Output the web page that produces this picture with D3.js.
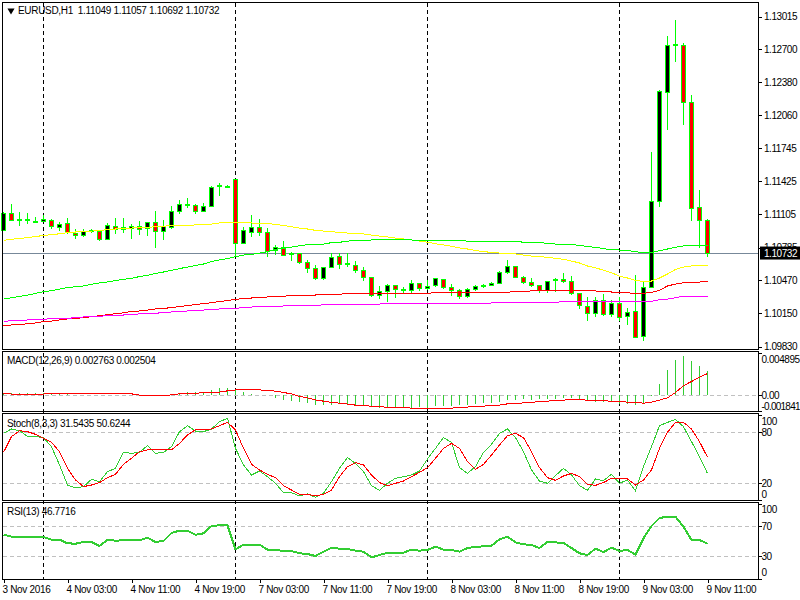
<!DOCTYPE html>
<html>
<head>
<meta charset="utf-8">
<script src="https://cdn.jsdelivr.net/npm/d3@7"></script>
<style>
  html, body { margin: 0; padding: 0; background: #fff; }
  svg { display: block; }
  text { font-family: "Liberation Sans", Arial, sans-serif; font-size: 10px; letter-spacing: -0.45px; fill: #000; }
  .wide text, text.wide { letter-spacing: -0.32px; }
  .axis path { display: none; }
  .axis line { stroke: #000; shape-rendering: crispEdges; }
</style>
</head>
<body>
<svg id="chart" width="800" height="600"></svg>
<script>
// prices are in points (1.10732 = 110732), one entry per H1 bar
const opens = [
  110951,111115,111056,111044,111036,111036,111044,110976,111019,110922,
  110899,110947,110942,110861,110989,110961,110970,110989,110973,111029,
  110938,110983,111135,111190,111193,111131,111183,111375,111378,111444,
  110822,110928,110980,110935,110754,110787,110715,110723,110643,110584,
  110484,110594,110700,110628,110614,110565,110498,110324,110362,110420,
  110370,110372,110439,110387,110420,110478,110401,110372,110310,110378,
  110405,110420,110439,110546,110604,110498,110449,110417,110368,110470,
  110478,110455,110343,110217,110150,110272,110140,110247,110121,110170,
  109928,110401,111231,112283,112737,112737,112187,111173,111049];
const highs = [
  111128,111205,111128,111118,111080,111099,111058,111029,111070,110961,
  110961,110964,110954,111022,111070,111070,111012,111041,111029,111137,
  111051,111186,111244,111263,111205,111212,111376,111405,111392,111444,
  110980,111099,111061,110974,110809,110848,110742,110729,110665,110617,
  110600,110729,110729,110729,110655,110597,110498,110414,110433,110427,
  110401,110472,110445,110472,110494,110484,110433,110382,110394,110420,
  110433,110452,110558,110665,110607,110510,110491,110423,110465,110491,
  110536,110510,110343,110305,110305,110337,110279,110311,110198,110520,
  110462,111707,112305,112827,112981,112759,112257,111340,111057];
const lows = [
  110944,111044,110993,111012,111022,111032,110964,110944,110916,110868,
  110887,110925,110851,110861,110916,110925,110868,110906,110896,110781,
  110858,110964,111109,111167,111109,111128,111179,111283,111363,110697,
  110822,110890,110896,110697,110713,110706,110658,110629,110542,110475,
  110472,110594,110578,110594,110539,110465,110305,110285,110260,110298,
  110343,110349,110366,110375,110401,110387,110318,110289,110301,110366,
  110394,110414,110433,110533,110498,110433,110407,110349,110343,110356,
  110445,110330,110195,110079,110118,110125,110118,110079,110037,109919,
  109886,110401,111179,111919,112578,111968,111044,110777,110692];
const closes = [
  111115,111044,111044,111056,111040,111051,110986,111009,110928,110899,
  110942,110950,110861,110999,110957,110980,110985,110964,111029,110938,
  110989,111135,111203,111200,111131,111183,111367,111385,111373,110826,
  110951,110980,110928,110751,110787,110713,110725,110639,110578,110484,
  110590,110691,110620,110618,110565,110494,110324,110362,110420,110378,
  110380,110439,110387,110410,110488,110401,110368,110310,110378,110410,
  110418,110439,110546,110604,110498,110446,110417,110368,110455,110480,
  110455,110343,110227,110150,110272,110137,110247,110112,110160,109919,
  110397,111231,112293,112737,112745,112187,111164,111049,110732];

// moving averages on the main chart
const maYellow = [
  110855,110865,110872,110881,110891,110902,110909,110918,110928,110935,
  110941,110944,110949,110959,110964,110969,110973,110978,110981,110985,
  110990,110998,111000,111001,111003,111006,111012,111022,111029,111029,
  111022,111022,111020,111018,111008,110998,110985,110973,110964,110951,
  110944,110940,110930,110925,110922,110917,110906,110896,110887,110877,
  110868,110858,110848,110836,110822,110810,110797,110781,110771,110756,
  110747,110737,110732,110727,110723,110713,110703,110697,110691,110681,
  110672,110655,110636,110607,110588,110568,110542,110510,110491,110467,
  110459,110462,110491,110530,110573,110597,110607,110610,110614];
const maGreen = [
  110288,110300,110314,110325,110343,110359,110369,110384,110399,110407,
  110414,110430,110443,110453,110466,110478,110488,110505,110517,110534,
  110549,110565,110582,110597,110611,110626,110650,110665,110679,110696,
  110713,110719,110732,110745,110768,110778,110790,110803,110813,110819,
  110819,110832,110836,110846,110855,110855,110858,110865,110865,110865,
  110865,110858,110855,110855,110855,110855,110855,110855,110846,110846,
  110846,110846,110846,110846,110846,110836,110836,110832,110826,110819,
  110816,110813,110807,110793,110788,110774,110765,110761,110758,110745,
  110735,110739,110755,110771,110788,110800,110800,110800,110800];
const maRed = [
  110028,110038,110042,110050,110057,110070,110076,110086,110096,110102,
  110108,110118,110127,110137,110147,110155,110169,110173,110182,110192,
  110198,110205,110216,110225,110234,110244,110253,110264,110274,110285,
  110293,110298,110305,110308,110312,110316,110321,110323,110324,110327,
  110331,110333,110335,110341,110343,110343,110343,110343,110343,110343,
  110343,110343,110343,110343,110351,110353,110353,110353,110353,110353,
  110353,110353,110353,110354,110361,110363,110366,110366,110366,110366,
  110366,110366,110366,110366,110366,110359,110356,110353,110348,110343,
  110343,110353,110372,110414,110433,110445,110452,110452,110459];
const maMagenta = [
  110073,110078,110083,110086,110090,110093,110099,110101,110102,110108,
  110115,110118,110122,110127,110131,110134,110141,110144,110150,110151,
  110157,110163,110168,110173,110175,110182,110188,110192,110197,110199,
  110205,110211,110214,110218,110218,110221,110227,110228,110228,110229,
  110231,110236,110238,110238,110238,110238,110238,110240,110246,110247,
  110247,110247,110247,110247,110247,110247,110247,110247,110247,110247,
  110247,110250,110256,110257,110257,110257,110257,110257,110257,110257,
  110262,110262,110262,110262,110262,110262,110262,110262,110262,110262,
  110262,110266,110282,110288,110301,110315,110315,110315,110315];

const macdHist = [
  .00025,.00023,.00025,.00028,.00028,.00023,.00018,.00018,.00018,.00005,
  .00002,-.00002,0,.00002,.00001,0,-.00002,-.00003,-.00002,-.00001,
  .00002,.00015,.00023,.00039,.00039,.00039,.00061,.00078,.00085,.00070,
  .00031,.00015,0,0,-.00031,-.00054,-.00066,-.00078,-.00093,-.00116,
  -.00116,-.00116,-.00108,-.00116,-.00124,-.00131,-.00139,-.00155,-.00155,-.00151,
  -.00139,-.00151,-.00143,-.00151,-.00124,-.00124,-.00124,-.00112,-.00112,-.00104,
  -.00096,-.00089,-.00078,-.00058,-.00054,-.00046,-.00054,-.00050,-.00043,-.00043,
  -.00038,-.00038,-.00046,-.00073,-.00081,-.00085,-.00085,-.00101,-.00104,-.00119,
  -.00093,-.00012,.00131,.00293,.00409,.00456,.00398,.00340,.002763];
const macdSignal = [
  .00023,.00012,.00012,.00012,.00012,.00012,.00023,.00023,.00023,.00023,
  .00023,.00023,.00023,.00015,.00015,.00015,.00015,0,0,0,
  0,.00002,.00015,.00015,.00023,.00027,.00035,.00035,.00050,.00061,
  .00061,.00061,.00061,.00055,.00046,.00031,.00015,-.00015,-.00031,-.00055,
  -.00070,-.00085,-.00093,-.00104,-.00116,-.00116,-.00131,-.00131,-.00143,-.00143,
  -.00139,-.00151,-.00151,-.00151,-.00151,-.00151,-.00151,-.00139,-.00139,-.00128,
  -.00128,-.00116,-.00116,-.00101,-.00101,-.00089,-.00089,-.00070,-.00070,-.00058,
  -.00058,-.00046,-.00046,-.00061,-.00061,-.00061,-.00073,-.00073,-.00081,-.00081,
  -.00093,-.00081,-.00058,-.00031,.00031,.00111,.00158,.00209,.002504];

const stochK = [
  78.8,83.9,81.9,75.2,75.2,73.7,63.1,41.5,18,14.5,
  16.1,24.7,22,33.7,37.6,56.4,55.3,56.4,64.3,55.3,
  56.4,63.1,80.7,87.8,81.5,80.7,83.9,92.5,96.4,61.1,
  41.5,29.8,34.5,27.8,20,9,9,5.1,7.4,3.5,
  8.2,22,37.6,50.2,43.5,33.7,17.2,11.7,20,25.9,
  27.8,29.8,34.5,48.6,61.1,73.7,68.2,38.4,31.7,39.6,
  56.4,65.9,78.8,83.9,73.7,57.2,35.7,22.7,20,29,
  37.6,29.8,17.2,11.7,25.1,23.1,30.6,20,23.9,11,
  39.6,63.1,87.8,91.7,95.2,86.6,69,51.4,31.5435];
const stochD = [
  56.4,74.9,81.9,80.7,77.6,72.9,68.2,57.2,37.6,23.9,
  16.1,18,20.8,26.6,30.6,42.3,49.4,57.2,59.2,59.2,
  59.2,59.2,67,76.8,83.1,83.1,83.9,87.8,91.7,82.7,
  61.1,42.3,35.7,30.6,26.6,17.2,12.1,7,7,5.1,
  7,12.1,27.8,39.6,44.3,41.5,29.8,20.8,17.2,20,
  22.7,27.8,32.9,38.4,49.4,61.1,67,61.1,45.5,36.4,
  42.3,53.3,65.1,76,78.8,73.7,57.2,38.4,26.6,23.5,
  28.6,31.7,27.8,18.8,17.6,20.8,25.9,25.1,25.1,18,
  23.9,35.7,61.1,80,91.7,91.7,83.9,69,50.6244];

const rsi = [
  58.8,56.2,56.2,56.2,56.2,55.7,52.2,52.2,47.3,46.8,
  49.1,49.1,43.7,51.8,50.9,51.3,51.8,51.3,54.8,49.1,
  50.4,61.1,64.2,64.2,58.8,60.6,70.4,71.3,71.3,39.3,
  45.5,45.5,45.5,38.9,38.4,37.1,37.1,34,33.1,30.4,
  36.2,41.5,40.2,39.7,37.5,36.2,28.6,31.7,34.8,34.8,
  34.8,38.9,37.5,38.4,42.8,38.9,38.4,36.2,41.1,42.4,
  43.3,44.2,52.6,56.2,48.6,46,45.1,41.1,49.1,48.6,
  47.7,41.1,34,31.7,40.2,35.7,41.5,37.1,38.4,32.2,
  54,70.4,81.1,82.8,82.8,69.5,51.8,51.8,46.7716];

const priceTicks = [113015,112700,112380,112060,111745,111425,111105,110785,110470,110150,109830];
const lastPrice = 110732;
const timeBars   = [0,8,16,24,32,40,48,56,64,72,80,88];
const timeLabels = ['3 Nov 2016','4 Nov 03:00','4 Nov 11:00','4 Nov 19:00','7 Nov 03:00','7 Nov 11:00',
                    '7 Nov 19:00','8 Nov 03:00','8 Nov 11:00','8 Nov 19:00','9 Nov 03:00','9 Nov 11:00'];
const dayBars = [5,29,53,77];   // day separators

const macdTicks  = [0.004895, 0, -0.001841];
const macdLabels = ['0.004895', '0.00', '-0.001841'];
const stochTicks = [100, 80, 20, 0];
const rsiTicks   = [100, 70, 30, 0];

const LEFT = 2.5, RIGHT = 758.5;
const LIME = '#00ff00', LIMEGREEN = '#32cd32';

const svg = d3.select('#chart');
const x = d3.scaleLinear().domain([0, 88]).range([3.5, 707.5]);

const yPrice = d3.scaleLinear().domain([109830, 113015]).range([346.5, 16.5]);
const yMacd  = d3.scaleLinear().domain([-0.001841, 0.004895]).range([411, 353]);
const yStoch = d3.scaleLinear().domain([0, 100]).range([500.3, 415.3]);
const yRsi   = d3.scaleLinear().domain([0, 100]).range([578.8, 503.8]);

const crisp = s => s.attr('shape-rendering', 'crispEdges');

/* ---------- day separators, behind everything ---------- */
svg.append('g').selectAll('line').data(dayBars).join('line')
  .attr('x1', d => x(d)).attr('x2', d => x(d))
  .attr('y1', 3).attr('y2', 579)
  .attr('stroke', '#000')
  .attr('stroke-dasharray', '4,3')
  .call(crisp);

/* ---------- level lines ---------- */
const levels = [[yMacd, 0], [yStoch, 80], [yStoch, 20], [yRsi, 70], [yRsi, 30]];
svg.append('g').selectAll('line').data(levels).join('line')
  .attr('x1', LEFT).attr('x2', RIGHT)
  .attr('y1', d => d[0](d[1])).attr('y2', d => d[0](d[1]))
  .attr('stroke', '#c0c0c0')
  .attr('stroke-dasharray', '4,3')
  .call(crisp);

// bid line
svg.append('line')
  .attr('x1', LEFT).attr('x2', RIGHT)
  .attr('y1', yPrice(lastPrice)).attr('y2', yPrice(lastPrice))
  .attr('stroke', '#778899')
  .call(crisp);

/* ---------- candles ---------- */
const bars = d3.range(opens.length);
const candles = svg.append('g').call(crisp);
candles.selectAll('line').data(bars).join('line')
  .attr('x1', i => x(i)).attr('x2', i => x(i))
  .attr('y1', i => yPrice(highs[i])).attr('y2', i => yPrice(lows[i]))
  .attr('stroke', LIME);
candles.selectAll('rect').data(bars).join('rect')
  .attr('x', i => x(i) - 2)
  .attr('width', 4)
  .attr('y', i => yPrice(Math.max(opens[i], closes[i])))
  .attr('height', i => Math.max(1, Math.abs(yPrice(opens[i]) - yPrice(closes[i]))))
  .attr('fill', i => closes[i] >= opens[i] ? '#000' : '#ff0000')
  .attr('stroke', LIME);

/* ---------- line helper ---------- */
function drawLine(values, yScale, color, width) {
  svg.append('path')
    .datum(values)
    .attr('fill', 'none')
    .attr('stroke', color)
    .attr('stroke-width', width || 1)
    .attr('d', d3.line().x((d, i) => x(i)).y(d => yScale(d)))
    .call(crisp);
}

drawLine(maYellow,  yPrice, '#ffff00');
drawLine(maGreen,   yPrice, LIME);
drawLine(maRed,     yPrice, '#ff0000');
drawLine(maMagenta, yPrice, '#ff00ff');

/* ---------- MACD ---------- */
svg.append('g').call(crisp).selectAll('line').data(macdHist).join('line')
  .attr('x1', (d, i) => x(i)).attr('x2', (d, i) => x(i))
  .attr('y1', yMacd(0)).attr('y2', d => yMacd(d))
  .attr('stroke', LIMEGREEN);
drawLine(macdSignal, yMacd, '#ff0000');

/* ---------- Stochastic, RSI ---------- */
drawLine(stochK, yStoch, LIMEGREEN);
drawLine(stochD, yStoch, '#ff0000');
drawLine(rsi, yRsi, LIMEGREEN, 2);

/* ---------- panel frames ---------- */
const frames = [[2.5, 349.5], [351.5, 411.5], [413.5, 500.5], [502.5, 579.5]];
svg.append('g').call(crisp).selectAll('rect').data(frames).join('rect')
  .attr('x', LEFT).attr('width', RIGHT - LEFT)
  .attr('y', d => d[0]).attr('height', d => d[1] - d[0])
  .attr('fill', 'none')
  .attr('stroke', '#000');

/* ---------- axes ---------- */
const axisAt = RIGHT;
const priceAxis = svg.append('g').attr('class', 'axis')
  .attr('transform', `translate(${axisAt},0)`)
  .call(d3.axisRight(yPrice).tickValues(priceTicks).tickSize(3).tickPadding(2)
    .tickFormat(d => (d / 1e5).toFixed(5)));
priceAxis.selectAll('text').attr('x', 5.5);

// top and bottom labels sit inside the panel, so they get nudged off their tick
function sideAxis(scale, ticks, format, nudges) {
  const g = svg.append('g').attr('class', 'axis')
    .attr('transform', `translate(${axisAt},0)`)
    .call(d3.axisRight(scale).tickValues(ticks).tickSize(3).tickPadding(2).tickFormat(format));
  g.selectAll('text')
    .attr('x', 3)
    .attr('dy', (d, i) => `${0.32 + nudges[i] / 10}em`);
  return g;
}
const macdAxis = sideAxis(yMacd, macdTicks, (d, i) => macdLabels[i], [6, 0, -5]);
macdAxis.selectAll('text').filter(d => d < 0).style('letter-spacing', '-0.75px');
sideAxis(yStoch, stochTicks, d => d, [6, 0, 0, -6]);
sideAxis(yRsi, rsiTicks, d => d, [5, 0, 0, -6.5]);

const timeAxis = svg.append('g').attr('class', 'axis wide')
  .attr('transform', 'translate(0,579.5)')
  .call(d3.axisBottom(x).tickValues(timeBars).tickSize(3).tickPadding(3)
    .tickFormat((d, i) => timeLabels[i]));
timeAxis.selectAll('text').attr('text-anchor', 'start').attr('x', -1.5);

/* ---------- last price tag ---------- */
svg.append('rect')
  .attr('x', 760).attr('y', yPrice(lastPrice) - 6.5)
  .attr('width', 40).attr('height', 13)
  .attr('fill', '#000');
svg.append('text')
  .attr('x', 764).attr('y', yPrice(lastPrice) + 3.5)
  .style('fill', '#fff')
  .text((lastPrice / 1e5).toFixed(5));

/* ---------- titles ---------- */
const titles = [
  ['EURUSD,H1  1.11049 1.11057 1.10692 1.10732', 18, 13.5],
  ['MACD(12,26,9) 0.002763 0.002504', 7, 364],
  ['Stoch(8,3,3) 31.5435 50.6244', 7, 426.5],
  ['RSI(13) 46.7716', 7, 515]
];
svg.append('g').attr('class', 'wide').selectAll('text').data(titles).join('text')
  .attr('x', d => d[1]).attr('y', d => d[2])
  .attr('xml:space', 'preserve')
  .style('white-space', 'pre')
  .text(d => d[0]);
svg.append('path')
  .attr('d', d3.symbol(d3.symbolTriangle, 22)())
  .attr('transform', 'translate(11,10.5) rotate(180)')
  .attr('fill', '#000');
</script>
</body>
</html>
